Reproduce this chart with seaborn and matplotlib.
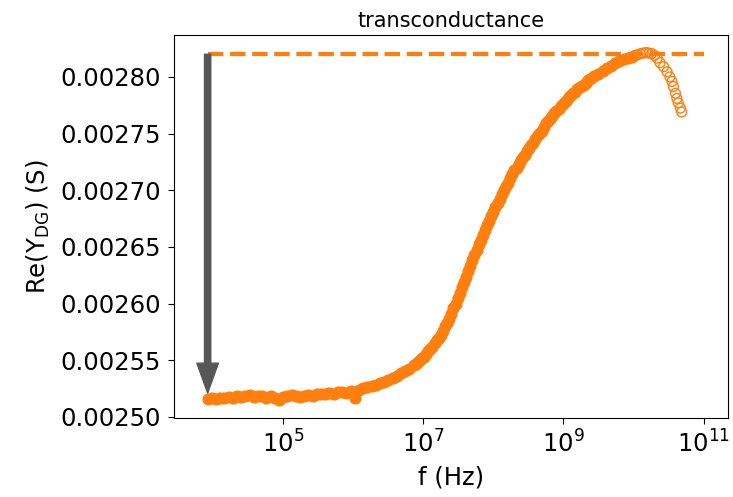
import numpy as np
import pandas as pd
import matplotlib
matplotlib.use("Agg")
import matplotlib.pyplot as plt
import seaborn as sns
from matplotlib.ticker import FixedLocator, NullLocator, FormatStrFormatter

# ---- data (log10 of frequency, Re(Y_DG) in microsiemens) ----
log_f_main = [3.92, 3.98, 4.04, 4.10, 4.16, 4.22, 4.28, 4.34, 4.40, 4.46,
              4.52, 4.58, 4.64, 4.70, 4.76, 4.82, 4.88, 4.94, 5.00, 5.06,
              5.12, 5.18, 5.24, 5.30, 5.36, 5.42, 5.48, 5.54, 5.60, 5.66,
              5.72, 5.78, 5.84, 5.90, 5.96, 6.02, 6.08, 6.14, 6.20, 6.26,
              6.32, 6.38, 6.44, 6.50, 6.56, 6.62, 6.68, 6.74, 6.80, 6.86,
              6.92, 6.98, 7.04, 7.10, 7.16, 7.22, 7.28, 7.34, 7.40, 7.46,
              7.52, 7.58, 7.64, 7.70, 7.76, 7.82, 7.88, 7.94, 8.00, 8.06,
              8.12, 8.18, 8.24, 8.30, 8.36, 8.42, 8.48, 8.54, 8.60, 8.66,
              8.72, 8.78, 8.84, 8.90, 8.96, 9.02, 9.08, 9.14, 9.20, 9.26,
              9.32, 9.38, 9.44, 9.50, 9.56, 9.62, 9.68, 9.74, 9.80, 9.86,
              9.92, 9.98]
re_main_uS = [2515.5, 2516.5, 2516.0, 2517.0, 2516.2, 2517.5, 2516.8, 2518.0, 2517.2, 2518.4,
              2519.5, 2517.6, 2518.2, 2518.8, 2517.0, 2518.5, 2516.8, 2515.0, 2517.5, 2518.6,
              2519.2, 2518.4, 2517.8, 2518.8, 2519.6, 2518.6, 2519.8, 2520.6, 2519.8, 2521.0,
              2520.4, 2521.6, 2522.0, 2521.4, 2523.0, 2517.0, 2524.0, 2525.2, 2526.0, 2527.2,
              2528.0, 2529.6, 2531.0, 2532.6, 2534.4, 2536.0, 2538.4, 2540.6, 2542.6, 2545.4,
              2548.0, 2551.6, 2555.6, 2560.0, 2564.8, 2570.0, 2576.0, 2583.0, 2591.0, 2600.0,
              2609.5, 2619.0, 2628.5, 2638.0, 2647.5, 2656.5, 2665.0, 2673.0, 2681.0, 2688.5,
              2696.5, 2703.5, 2711.0, 2717.5, 2723.5, 2729.0, 2734.5, 2739.5, 2745.0, 2750.5,
              2756.0, 2761.0, 2765.5, 2770.0, 2774.0, 2778.0, 2782.0, 2785.5, 2789.0, 2792.0,
              2795.0, 2798.0, 2800.5, 2803.0, 2805.5, 2808.0, 2810.0, 2812.0, 2814.0, 2815.5,
              2817.0, 2818.0]
# extra sweep points in the steep part of the curve
log_f_mid = [6.89, 6.95, 7.01, 7.07, 7.13, 7.19, 7.25, 7.31, 7.37, 7.43,
             7.49, 7.55, 7.61, 7.67, 7.73, 7.79, 7.85, 7.91, 7.97, 8.03,
             8.09, 8.15, 8.21, 8.27, 8.33, 8.39, 8.45, 8.51, 8.57, 8.63,
             8.69, 8.75, 8.81, 8.87, 8.93, 8.99, 9.05, 9.11, 9.17, 9.23,
             9.29, 9.35]
re_mid_uS = [2546.5, 2550.0, 2553.2, 2558.0, 2562.0, 2567.8, 2572.5, 2580.0, 2586.5, 2596.0,
             2604.5, 2615.0, 2623.5, 2633.5, 2642.5, 2652.5, 2660.5, 2669.5, 2677.0, 2685.5,
             2692.0, 2700.5, 2706.5, 2714.5, 2720.0, 2727.0, 2731.5, 2737.5, 2742.0, 2748.5,
             2752.5, 2759.0, 2763.0, 2768.0, 2771.5, 2776.5, 2779.5, 2784.0, 2787.0, 2791.0,
             2793.0, 2797.0]
log_f_high = [10.02, 10.06, 10.10, 10.14, 10.18, 10.22, 10.26, 10.30, 10.34, 10.38,
              10.43, 10.48, 10.52, 10.55, 10.57, 10.60, 10.62, 10.64, 10.67, 10.69]
re_high_uS = [2819.0, 2819.5, 2820.5, 2821.0, 2821.5, 2821.0, 2820.5, 2819.0, 2816.5, 2812.5,
              2809.0, 2804.5, 2800.0, 2796.0, 2791.5, 2785.5, 2781.0, 2777.0, 2772.5, 2769.0]
ref_level = 0.00282
ref_line_end = 1e11
arrow_tip = 0.002521
xtick_values = [1e5, 1e7, 1e9, 1e11]
ytick_values = [0.00250, 0.00255, 0.00260, 0.00265, 0.00270, 0.00275, 0.00280]
title_text = "transconductance"
xlabel_text = "f (Hz)"
ylabel_text = r"Re(Y$_\mathrm{DG}$) (S)"

main = pd.DataFrame({"f": 10 ** np.array(log_f_main + log_f_mid),
                     "re": np.array(re_main_uS + re_mid_uS) * 1e-6})
high = pd.DataFrame({"f": 10 ** np.array(log_f_high), "re": np.array(re_high_uS) * 1e-6})
f0 = main["f"].iloc[0]
ref = pd.DataFrame({"f": [f0, ref_line_end], "re": [ref_level, ref_level]})

orange = "#ff7f0e"
gray = "#575757"

fig = plt.figure(figsize=(7.33, 4.97), dpi=100)
ax = fig.add_axes([0.2374, 0.159, 0.7558, 0.7706])
ax.set_xscale("log")

sns.lineplot(data=ref, x="f", y="re", ax=ax, color=orange, lw=3, linestyle="--", zorder=1)
sns.scatterplot(data=main, x="f", y="re", ax=ax, color=orange, s=60,
                edgecolor=orange, linewidth=1, zorder=2)
sns.scatterplot(data=high, x="f", y="re", ax=ax, facecolor="none",
                edgecolor=orange, s=50, linewidth=1, zorder=2)

ax.annotate("", xy=(f0, arrow_tip), xytext=(f0, ref_level),
            arrowprops=dict(facecolor=gray, edgecolor=gray, width=4.5,
                            headwidth=15.5, headlength=21.5, shrink=0),
            zorder=5)

ax.set_xlim(10 ** 3.44, 10 ** 11.35)
ax.set_ylim(0.002499, 0.002837)
ax.xaxis.set_major_locator(FixedLocator(xtick_values))
ax.xaxis.set_minor_locator(NullLocator())
ax.yaxis.set_major_locator(FixedLocator(ytick_values))
ax.yaxis.set_major_formatter(FormatStrFormatter("%.5f"))
ax.tick_params(labelsize=17.5, length=4.3, pad=5)

ax.set_title(title_text, fontsize=15)
ax.set_xlabel(xlabel_text, fontsize=17.5, labelpad=5)
ax.set_ylabel(ylabel_text, fontsize=17.5, labelpad=6)

fig.savefig("out.png", dpi=100)
